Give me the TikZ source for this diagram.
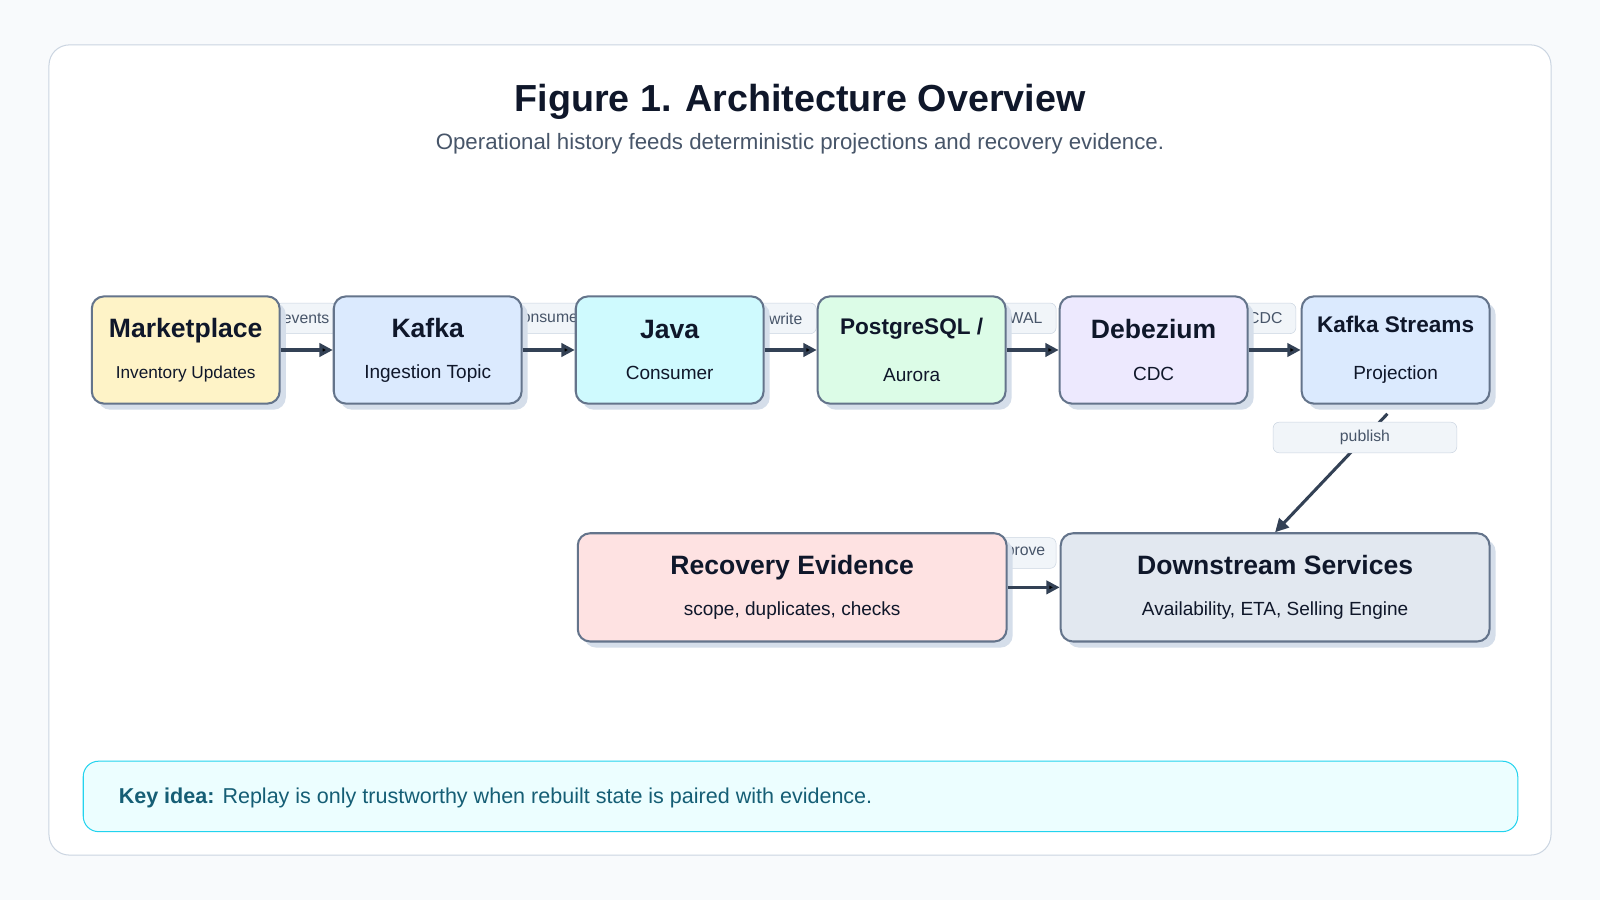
\documentclass[tikz,border=0pt]{standalone}
\usepackage{fontspec}
\setmainfont{Liberation Sans}
\usetikzlibrary{positioning,shadows,arrows.meta}

\definecolor{pagebg}{HTML}{F8FAFC}
\definecolor{cardline}{HTML}{CBD5E1}
\definecolor{boxline}{HTML}{64748B}
\definecolor{shadowc}{HTML}{D5DEEA}
\definecolor{ink}{HTML}{0F172A}
\definecolor{subink}{HTML}{475569}
\definecolor{arrowc}{HTML}{334155}
\definecolor{lblfill}{HTML}{F1F5F9}
\definecolor{cMarket}{HTML}{FEF3C7}
\definecolor{cKafka}{HTML}{DBEAFE}
\definecolor{cJava}{HTML}{CFFAFE}
\definecolor{cPg}{HTML}{DCFCE7}
\definecolor{cDbz}{HTML}{EDE9FE}
\definecolor{cRec}{HTML}{FEE2E2}
\definecolor{cDown}{HTML}{E2E8F0}
\definecolor{keyfill}{HTML}{ECFEFF}
\definecolor{keyline}{HTML}{22D3EE}
\definecolor{keyink}{HTML}{155E75}

\newcommand{\ttl}[2]{{\fontsize{#1}{#1}\selectfont\bfseries #2}}
\newcommand{\sub}[2]{{\fontsize{#1}{#1}\selectfont #2}}

\tikzset{
  comp/.style={draw=boxline, line width=0.02cm, rounded corners=0.12cm,
    minimum width=1.84cm, minimum height=1.05cm, align=center, text=ink,
    general shadow={fill=shadowc, shadow xshift=0.06cm, shadow yshift=-0.06cm}},
  wide/.style={comp, minimum width=4.2cm, minimum height=1.06cm},
  flow/.style={-{Triangle[length=0.13cm,width=0.13cm]}, draw=arrowc, line width=0.03cm},
  lbl/.style={fill=lblfill, draw=cardline, line width=0.005cm, rounded corners=0.06cm,
    text=subink, font=\fontsize{4.4}{5}\selectfont, inner sep=0.03cm,
    minimum height=0.3cm}
}

\begin{document}
\begin{tikzpicture}[x=0.01cm, y=-0.01cm, node distance=0.51cm]
  \fill[pagebg] (0,0) rectangle (1568,882);
  \useasboundingbox (0,0) rectangle (1568,882);
  \draw[cardline, fill=white, rounded corners=0.2cm, line width=0.01cm] (48,44) rectangle (1520,838);

  \node[text=ink] (title) at (784,100) {\ttl{10.5}{Figure 1. Architecture Overview}};
  \node[text=subink] (subtitle) at (784,141) {\sub{6.2}{Operational history feeds deterministic projections and recovery evidence.}};

  % labels first, boxes cover their ends
  \node[lbl, minimum width=0.6cm]  (levents) at (300,312) {events};
  \node[lbl, minimum width=0.6cm]  (lcons)   at (535,312) {consume};
  \node[lbl, minimum width=0.6cm]  (lwrite)  at (770,312) {write};
  \node[lbl, minimum width=0.6cm]  (lwal)    at (1005,312) {WAL};
  \node[lbl, minimum width=0.6cm]  (lcdc)    at (1240,312) {CDC};
  \node[lbl, minimum width=0.6cm]  (lprove)  at (1005,542) {prove};

  \node[comp, fill=cMarket] (M) at (182,343) {\ttl{7.4}{Marketplace}\\[-0.5pt]\sub{4.8}{Inventory Updates}};
  \node[comp, fill=cKafka]  (K) [right=of M] {\ttl{7.4}{Kafka}\\[-0.5pt]\sub{5.3}{Ingestion Topic}};
  \node[comp, fill=cJava]   (J) [right=of K] {\ttl{7.4}{Java}\\[-0.5pt]\sub{5.3}{Consumer}};
  \node[comp, fill=cPg]     (P) [right=of J] {\ttl{6.3}{PostgreSQL /}\\[1pt]\sub{5.3}{Aurora}};
  \node[comp, fill=cDbz]    (D) [right=of P] {\ttl{7.4}{Debezium}\\[-0.5pt]\sub{5.3}{CDC}};
  \node[comp, fill=cKafka]  (S) [right=of D] {\ttl{6.3}{Kafka Streams}\\[1pt]\sub{5.3}{Projection}};
  \node[wide, fill=cDown]   (W) [below=1.25cm of S.south east, anchor=north east] {\ttl{7.4}{Downstream Services}\\[-0.5pt]\sub{5.3}{Availability, ETA, Selling Engine}};
  \node[wide, fill=cRec]    (R) [left=of W] {\ttl{7.4}{Recovery Evidence}\\[-0.5pt]\sub{5.3}{scope, duplicates, checks}};

  \path[flow] (M) edge (K)
              (K) edge (J)
              (J) edge (P)
              (P) edge (D)
              (D) edge (S)
              (R) edge (W);
  \draw[flow] ([xshift=-0.08cm, yshift=-0.09cm]S.south) -- node[lbl, minimum width=1.8cm, pos=0.2] (lpub) {publish} (W.north);

  \node[draw=keyline, fill=keyfill, rounded corners=0.15cm, line width=0.01cm,
        minimum width=14.05cm, minimum height=0.69cm] (key) at (784.5,780.5) {};
  \node[anchor=west, text=keyink, font=\fontsize{6}{7}\selectfont] (keytext) at (104,782)
    {\textbf{Key idea:} Replay is only trustworthy when rebuilt state is paired with evidence.};
\end{tikzpicture}
\end{document}
